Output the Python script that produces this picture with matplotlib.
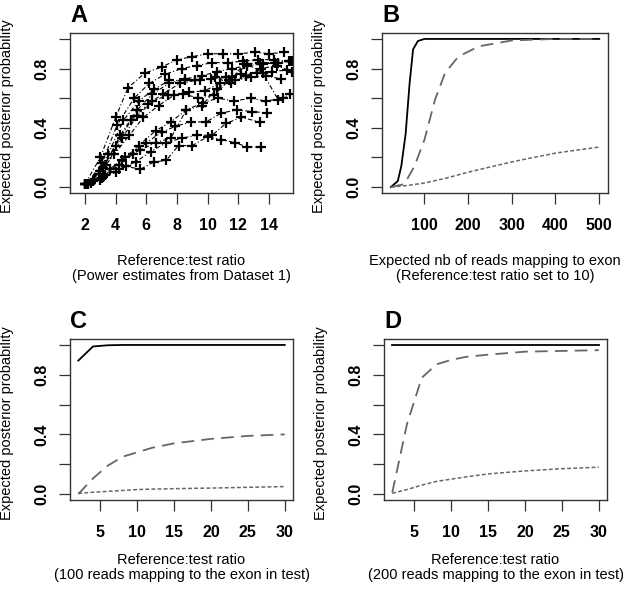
import matplotlib.pyplot as plt

plt.rcParams['font.family'] = ['Liberation Sans', 'DejaVu Sans']

# ---- datos panel A (estimaciones de poder, Dataset 1) ----
a_x = [
    [2, 3, 4, 4.8, 5.9, 7, 8, 9, 10, 11, 12, 13.1, 14, 15],
    [2.1, 3.1, 4.1, 5.2, 6.2, 7.2, 8.3, 9.3, 10.3, 11.3, 12.3, 13.3, 14.3, 15.3],
    [2.2, 3.2, 4.3, 5.4, 6.4, 7.5, 8.5, 9.6, 10.6, 11.6, 12.6, 13.6, 14.6, 15.5],
    [2.1, 3.0, 4.0, 5.0, 6.1, 7.1, 8.2, 9.2, 10.2, 11.2, 12.2, 13.2, 14.2, 15.2],
    [2.0, 2.9, 3.9, 4.9, 5.8, 6.8, 7.8, 8.8, 9.8, 10.8, 11.8, 12.8, 13.8, 14.8],
    [2.2, 3.3, 4.4, 5.5, 6.6, 7.6, 8.6, 9.7, 10.7, 11.7, 12.8, 13.8, 14.9, 15.4],
    [2.1, 3.2, 4.2, 5.1, 6.0, 7.0, 7.9, 8.9, 9.9, 10.9, 11.9, 12.9, 13.9],
    [2.0, 3.1, 4.2, 5.3, 6.3, 7.3, 8.3, 9.3, 10.3, 11.2, 12.2, 13.4],
    [2, 3, 4, 4.7, 5.6, 6.5, 7.3, 8.1, 9, 10, 10.9, 11.8, 12.6, 13.5],
    [2.5, 3.5, 4.5, 5.5, 6.5, 7.5, 8.5, 9.5, 10.5, 11.5, 12.5, 13.5, 14.5, 15.5],
    [2.4, 3.4, 4.4, 5.4, 6.4, 7.4, 8.4, 9.4, 10.4, 11.4, 12.4, 13.4, 14.4, 15.4],
    [2.6, 3.6, 4.6, 5.6, 6.6, 7.6, 8.6, 9.6, 10.6, 11.6, 12.6, 13.6, 14.6],
]
a_y = [
    [0.02, 0.20, 0.47, 0.67, 0.77, 0.81, 0.86, 0.88, 0.90, 0.90, 0.90, 0.91, 0.90, 0.91],
    [0.02, 0.16, 0.42, 0.60, 0.70, 0.76, 0.80, 0.82, 0.84, 0.84, 0.85, 0.86, 0.86, 0.85],
    [0.02, 0.13, 0.35, 0.52, 0.63, 0.70, 0.73, 0.75, 0.78, 0.80, 0.82, 0.83, 0.84, 0.85],
    [0.02, 0.11, 0.28, 0.45, 0.56, 0.63, 0.70, 0.72, 0.73, 0.74, 0.76, 0.77, 0.78, 0.79],
    [0.02, 0.09, 0.22, 0.35, 0.47, 0.55, 0.62, 0.64, 0.65, 0.70, 0.72, 0.74, 0.75, 0.73],
    [0.02, 0.08, 0.18, 0.28, 0.38, 0.44, 0.52, 0.57, 0.60, 0.58, 0.60, 0.58, 0.60, 0.63],
    [0.02, 0.07, 0.15, 0.22, 0.30, 0.37, 0.41, 0.44, 0.44, 0.50, 0.52, 0.51, 0.50],
    [0.02, 0.06, 0.12, 0.17, 0.24, 0.30, 0.33, 0.35, 0.35, 0.43, 0.47, 0.44],
    [0.02, 0.05, 0.10, 0.14, 0.12, 0.17, 0.18, 0.28, 0.28, 0.34, 0.32, 0.30, 0.27, 0.27],
    [0.04, 0.22, 0.45, 0.58, 0.66, 0.72, 0.72, 0.72, 0.74, 0.70, 0.75, 0.80, 0.82, 0.78],
    [0.03, 0.15, 0.33, 0.48, 0.58, 0.62, 0.63, 0.60, 0.62, 0.72, 0.83, 0.84, 0.84, 0.85],
    [0.05, 0.12, 0.20, 0.25, 0.30, 0.33, 0.52, 0.55, 0.66, 0.74, 0.83, 0.77, 0.59],
]

# ---- panel B: nb de lecturas esperadas ----
b_x_solid = [24, 40, 48, 58, 67, 75, 86, 101, 150, 200, 300, 400, 500]
b_y_solid = [0.0, 0.04, 0.14, 0.36, 0.70, 0.93, 0.986, 1.0, 1.0, 1.0, 1.0, 1.0, 1.0]
b_x_long = [24, 55, 78, 101, 125, 148, 178, 225, 301, 400, 500]
b_y_long = [0.0, 0.02, 0.14, 0.32, 0.59, 0.77, 0.88, 0.95, 0.99, 1.0, 1.0]
b_x_short = [24, 60, 100, 150, 200, 250, 301, 350, 402, 450, 500]
b_y_short = [0.0, 0.01, 0.027, 0.06, 0.10, 0.135, 0.17, 0.20, 0.23, 0.25, 0.27]

# ---- paneles C y D: ratio referencia:test ----
ratio = [2, 4, 6, 8, 10, 12, 15, 20, 25, 30]
c_solid = [0.895, 0.99, 0.998, 1.0, 1.0, 1.0, 1.0, 1.0, 1.0, 1.0]
c_long = [0.0, 0.105, 0.19, 0.25, 0.28, 0.31, 0.34, 0.37, 0.39, 0.40]
c_short = [0.005, 0.012, 0.018, 0.024, 0.03, 0.033, 0.036, 0.04, 0.045, 0.05]
d_solid = [1.0, 1.0, 1.0, 1.0, 1.0, 1.0, 1.0, 1.0, 1.0, 1.0]
d_long = [0.01, 0.47, 0.78, 0.87, 0.90, 0.92, 0.935, 0.955, 0.96, 0.965]
d_short = [0.005, 0.03, 0.06, 0.085, 0.10, 0.115, 0.135, 0.155, 0.17, 0.18]

ylabel = 'Expected posterior probability'
edge = '#333333'
gray = '#666666'
long_dash = (0, (7, 4))
short_dash = (0, (2.5, 1.5))

fig = plt.figure(figsize=(6.25, 5.92), dpi=100)
axA = fig.add_axes([70/625, 1-193/592, 223/625, 160/592])
axB = fig.add_axes([382/625, 1-193/592, 226/625, 160/592])
axC = fig.add_axes([70/625, 1-500/592, 223/625, 161/592])
axD = fig.add_axes([384/625, 1-500/592, 223/625, 161/592])


def estilo_r(ax, letra, xlab, pad_lab):
    # ejes estilo R base
    ax.set_ylim(-0.04, 1.04)
    ax.set_yticks([0, 0.2, 0.4, 0.6, 0.8, 1.0])
    ax.set_yticklabels(['0.0', '', '0.4', '', '0.8', ''], rotation=90, va='center')
    for s in ax.spines.values():
        s.set_color(edge)
        s.set_linewidth(1.0)
    ax.tick_params(direction='out', length=8, width=0.9, color=edge, labelsize=11.5)
    ax.tick_params(axis='x', pad=10)
    ax.tick_params(axis='y', pad=7)
    for lab in ax.get_xticklabels() + ax.get_yticklabels():
        lab.set_fontweight('bold')
    ax.set_xlabel(xlab, fontsize=10.5, labelpad=pad_lab, linespacing=1.1)
    ax.set_ylabel(ylabel, fontsize=10.5)
    ax.yaxis.set_label_coords(-0.25, 0.48)
    ax.text(0.0, 1.04, letra, transform=ax.transAxes, fontsize=17, fontweight='bold', va='bottom', ha='left')


# Panel A
for xs, ys in zip(a_x, a_y):
    axA.plot(xs, ys, color='black', lw=0.8, linestyle=(0, (4, 2, 1, 2)),
             marker='+', markersize=7, markeredgewidth=1.6)
axA.set_xlim(1.02, 15.57)
axA.set_xticks([2, 4, 6, 8, 10, 12, 14])
estilo_r(axA, 'A', 'Reference:test ratio\n(Power estimates from Dataset 1)', 15)

# Panel B
axB.plot(b_x_solid, b_y_solid, color='black', lw=1.3)
axB.plot(b_x_long, b_y_long, color=gray, lw=1.3, linestyle=long_dash)
axB.plot(b_x_short, b_y_short, color=gray, lw=1.1, linestyle=short_dash)
axB.set_xlim(4, 520)
axB.set_xticks([100, 200, 300, 400, 500])
estilo_r(axB, 'B', 'Expected nb of reads mapping to exon\n(Reference:test ratio set to 10)', 15)

# Panel C
axC.plot(ratio, c_solid, color='black', lw=1.3)
axC.plot(ratio, c_long, color=gray, lw=1.3, linestyle=long_dash)
axC.plot(ratio, c_short, color=gray, lw=1.1, linestyle=short_dash)
axC.set_xlim(0.88, 31.12)
axC.set_xticks([5, 10, 15, 20, 25, 30])
estilo_r(axC, 'C', 'Reference:test ratio\n(100 reads mapping to the exon in test)', 9)

# Panel D
axD.plot(ratio, d_solid, color='black', lw=1.3)
axD.plot(ratio, d_long, color=gray, lw=1.3, linestyle=long_dash)
axD.plot(ratio, d_short, color=gray, lw=1.1, linestyle=short_dash)
axD.set_xlim(0.88, 31.12)
axD.set_xticks([5, 10, 15, 20, 25, 30])
estilo_r(axD, 'D', 'Reference:test ratio\n(200 reads mapping to the exon in test)', 9)

fig.savefig('out.png', dpi=100)
